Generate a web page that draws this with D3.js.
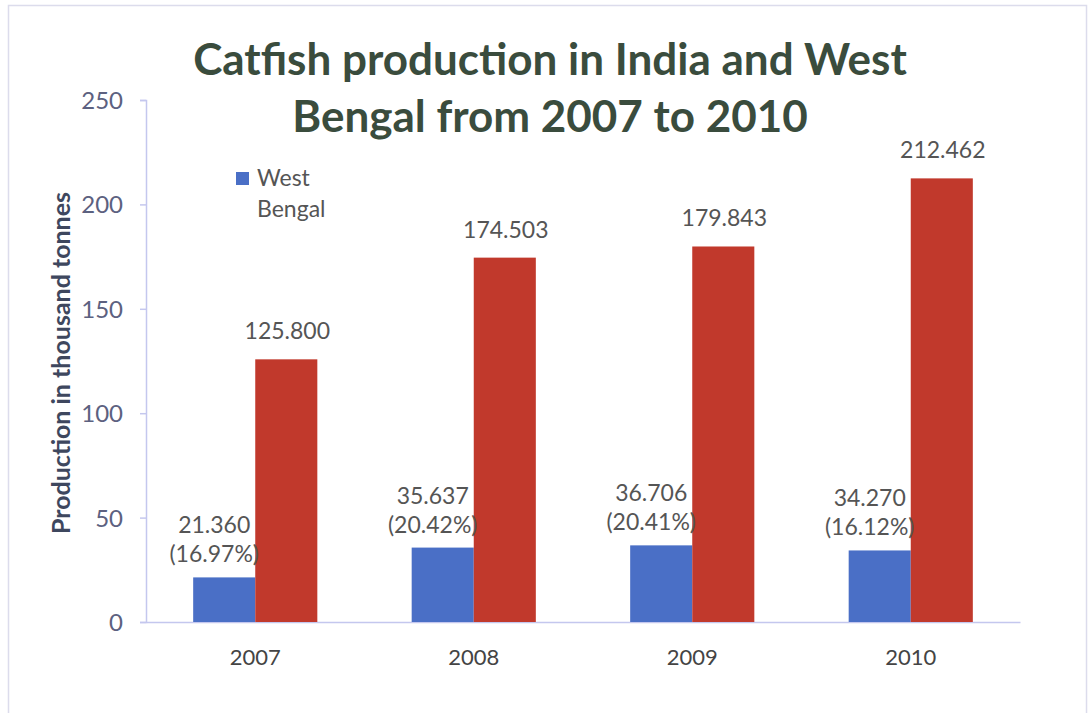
<!DOCTYPE html>
<html>
<head>
<meta charset="utf-8">
<script src="https://cdn.jsdelivr.net/npm/d3@7"></script>
<style>
  html, body { margin: 0; padding: 0; background: #ffffff; }
  svg { display: block; }
  text { font-family: Lato, "Open Sans", sans-serif; }
</style>
</head>
<body>
<svg id="chart" width="1088" height="713"></svg>
<script>
// Catfish production (thousand tonnes)
const years = ["2007", "2008", "2009", "2010"];
const westBengal = [21.360, 35.637, 36.706, 34.270];
const india = [125.800, 174.503, 179.843, 212.462];
const westBengalShare = ["16.97%", "20.42%", "20.41%", "16.12%"];
const yTicks = [0, 50, 100, 150, 200, 250];
const seriesNames = ["West Bengal", "India"];
const titleLines = ["Catfish production in India and West", "Bengal from 2007 to 2010"];
const yAxisTitle = "Production in thousand tonnes";

const colors = { "West Bengal": "#4a6fc6", "India": "#c1392c" };

const svg = d3.select("#chart");
const plot = { left: 146, right: 1020, top: 100, bottom: 622 };

// outer frame
svg.append("rect")
  .attr("x", 8.5).attr("y", 5.5)
  .attr("width", 1078).attr("height", 720)
  .attr("fill", "none")
  .attr("stroke", "#dcdcec")
  .attr("stroke-width", 1.5);

const y = d3.scaleLinear().domain([0, 250]).range([plot.bottom, plot.top]);
const x0 = d3.scaleBand().domain(years).range([plot.left, plot.right]).paddingInner(0).paddingOuter(0);
const x1 = d3.scaleBand().domain(seriesNames).range([0, x0.bandwidth()]).paddingInner(0).paddingOuter(0.76);

const rows = years.map((yr, i) => ({
  year: yr,
  values: [
    { key: "West Bengal", value: westBengal[i] },
    { key: "India", value: india[i] }
  ],
  share: westBengalShare[i]
}));

// y axis
const yAxis = d3.axisLeft(y).tickValues(yTicks).tickSize(6).tickPadding(17);
const gy = svg.append("g").attr("transform", `translate(${plot.left},0)`).call(yAxis);
gy.select(".domain").attr("stroke", "#c4c7ee").attr("stroke-width", 1.5);
gy.selectAll(".tick line").attr("stroke", "#c4c7ee").attr("stroke-width", 1.5);
gy.selectAll(".tick text")
  .attr("fill", "#5c6180")
  .style("font-size", "24px")
  .style("font-family", "Lato, sans-serif")
  .attr("dy", "0.35em");

// x axis
const xAxis = d3.axisBottom(x0).tickSize(0).tickPadding(27);
const gx = svg.append("g").attr("transform", `translate(0,${plot.bottom})`).call(xAxis);
gx.select(".domain").attr("stroke", "#c4c7ee").attr("stroke-width", 1.5);
gx.selectAll(".tick text")
  .attr("fill", "#444444")
  .style("font-size", "22px")
  .style("font-family", "Lato, sans-serif");

// bars
const groups = svg.append("g").selectAll("g.year")
  .data(rows).join("g")
  .attr("class", "year")
  .attr("transform", d => `translate(${x0(d.year)},0)`);

groups.selectAll("rect")
  .data(d => d.values).join("rect")
  .attr("x", d => x1(d.key))
  .attr("y", d => y(d.value))
  .attr("width", x1.bandwidth())
  .attr("height", d => y(0) - y(d.value))
  .attr("fill", d => colors[d.key]);

// India value labels
groups.append("text")
  .attr("x", x1("India") + x1.bandwidth() / 2 + 1)
  .attr("y", d => y(d.values[1].value) - 20)
  .attr("text-anchor", "middle")
  .attr("fill", "#555555")
  .style("font-size", "23px")
  .text(d => d.values[1].value.toFixed(3));

// West Bengal value labels with share of national production
const wbLabel = groups.append("text")
  .attr("text-anchor", "middle")
  .attr("fill", "#555555")
  .style("font-size", "23px");
wbLabel.append("tspan")
  .attr("x", x1("West Bengal") + x1.bandwidth() / 2 - 10)
  .attr("y", d => y(d.values[0].value) - 44)
  .text(d => d.values[0].value.toFixed(3));
wbLabel.append("tspan")
  .attr("x", x1("West Bengal") + x1.bandwidth() / 2 - 10)
  .attr("y", d => y(d.values[0].value) - 15)
  .text(d => `(${d.share})`);

// y axis title
svg.append("text")
  .attr("transform", `translate(70,${(plot.top + plot.bottom) / 2 + 2}) rotate(-90)`)
  .attr("text-anchor", "middle")
  .attr("fill", "#3e475e")
  .style("font-size", "25px")
  .style("font-weight", "bold")
  .text(yAxisTitle);

// chart title
const title = svg.append("text")
  .attr("text-anchor", "middle")
  .attr("fill", "#3a4c3d")
  .style("font-size", "44px")
  .style("font-weight", "bold");
title.selectAll("tspan")
  .data(titleLines).join("tspan")
  .attr("x", 550)
  .attr("y", (d, i) => 75 + i * 57)
  .text(d => d);

// legend (West Bengal only)
const legend = svg.append("g").attr("transform", "translate(236,172)");
legend.append("rect")
  .attr("width", 13).attr("height", 13)
  .attr("fill", colors["West Bengal"]);
const legText = legend.append("text")
  .attr("fill", "#555555")
  .style("font-size", "23px");
legText.append("tspan").attr("x", 21).attr("y", 14).text("West");
legText.append("tspan").attr("x", 21).attr("y", 45).text("Bengal");
</script>
</body>
</html>
